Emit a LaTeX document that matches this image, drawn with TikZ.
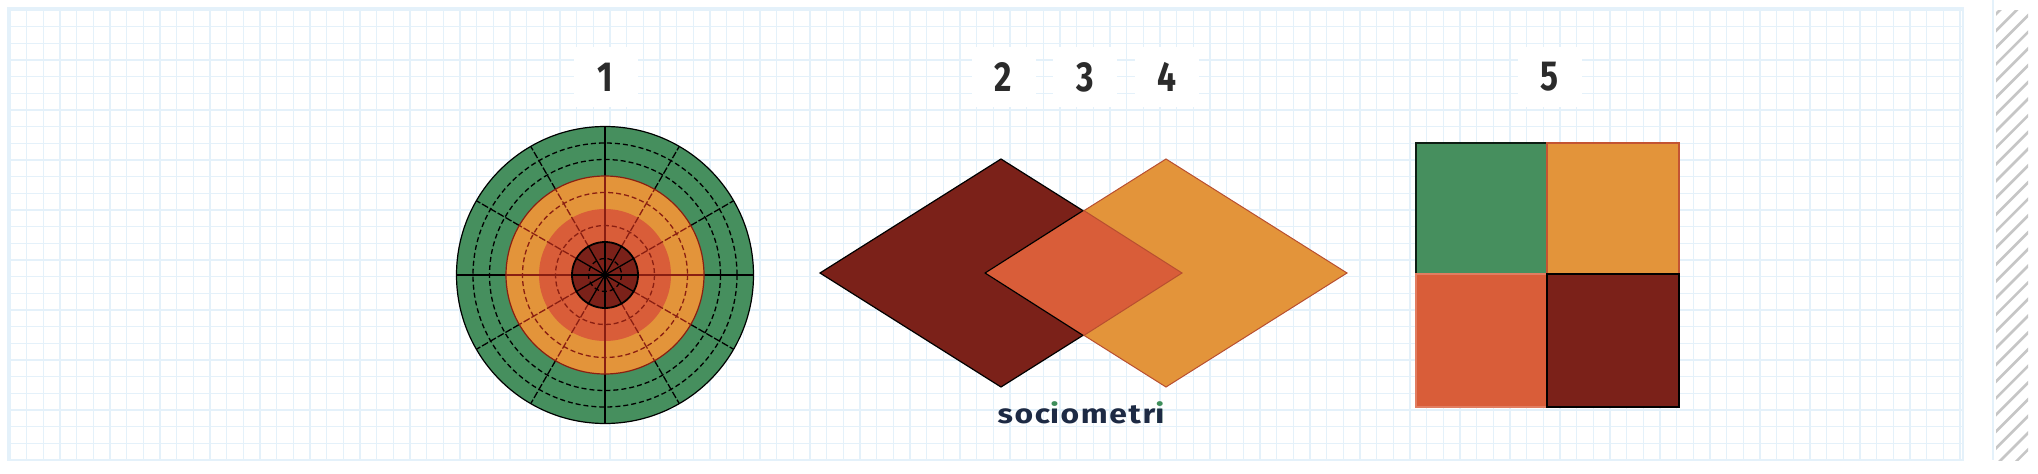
\documentclass[tikz,border=0pt]{standalone}
\usepackage{fontspec}
\setmainfont{Fira Sans}
\usepackage{graphicx}
\definecolor{cgreen}{HTML}{468F5E}
\definecolor{corange}{HTML}{E3943A}
\definecolor{cred}{HTML}{D95D39}
\definecolor{cdark}{HTML}{7B2119}
\definecolor{clines}{HTML}{8A1F12}
\definecolor{cnavy}{HTML}{1D2A44}
\definecolor{cdigit}{HTML}{2B2B2B}
\definecolor{cgrid}{HTML}{E4F1FA}
\definecolor{chatch}{HTML}{C6C6C6}
\definecolor{cdot}{HTML}{3E8E5A}
\newcommand{\gi}{\rlap{\textcolor{cdot}{i}}ı}
\tikzset{
  gridline/.style={cgrid, line width=1.5pt},
  numlabel/.style={fill=white, minimum width=64pt, minimum height=60pt, inner sep=0pt,
    text=cdigit, font=\fontsize{42}{42}\selectfont\bfseries},
  dashring/.style={dash pattern=on 5pt off 3pt, line width=1.3pt},
  spoke/.style={line width=1.3pt},
  dspoke/.style={dash pattern=on 7pt off 2pt, line width=1.3pt},
  cell/.style={line width=1.2pt}
}
\begin{document}
\begin{tikzpicture}[x=1pt,y=-1pt]
\useasboundingbox (0,0) rectangle (2038,474);
\fill[white] (0,0) rectangle (2038,474);
% grid paper
\foreach \i in {0,...,117} \draw[gridline] ({10+16.667*\i},8) -- ({10+16.667*\i},460);
\foreach \j in {0,...,27} \draw[gridline] (8,{10+16.667*\j}) -- (1963,{10+16.667*\j});
\draw[gridline] (8,8) rectangle (1963,460);
% right strip
\draw[cgrid, line width=1.5pt] (1993,0) -- (1993,460);
\begin{scope}
  \clip (1996,10) rectangle (2028,460);
  \foreach \k in {0,...,30} \draw[chatch, line width=2.6pt] (1990,{20+16.7*\k}) -- (2040,{-30+16.7*\k});
\end{scope}
% ---------- target 1 ----------
\coordinate (c) at (605,275);
\fill[cgreen] (c) circle (148.5);
\foreach \a in {30,60,120,150,210,240,300,330} \draw[dspoke, black] (c) ++(\a:99) -- ++(\a:49.5);
\foreach \a in {0,90,180,270} \draw[spoke, black] (c) ++(\a:99) -- ++(\a:49.5);
\draw[dashring, black] (c) circle (115.5);
\draw[dashring, black] (c) circle (132);
\draw[black, line width=1.2pt] (c) circle (148.5);
\fill[corange] (c) circle (99);
\fill[cred] (c) circle (66);
\draw[dashring, clines] (c) circle (82.5);
\draw[dashring, clines] (c) circle (49.5);
\foreach \a in {30,60,120,150,210,240,300,330} \draw[dspoke, clines] (c) ++(\a:33) -- ++(\a:66);
\foreach \a in {0,90,180,270} \draw[spoke, clines] (c) ++(\a:33) -- ++(\a:66);
\draw[clines, line width=1.2pt] (c) circle (99);
\fill[cdark] (c) circle (33);
\foreach \a in {0,30,...,330} \draw[spoke, black] (c) -- ++(\a:33);
\draw[dashring, black] (c) circle (16.5);
\draw[black, line width=1.8pt] (c) circle (33);
\fill[black] (c) circle (3);
% ---------- diamonds 2,3,4 ----------
\coordinate (dl) at (820,273); \coordinate (dt) at (1001,159);
\coordinate (dr) at (1182,273); \coordinate (db) at (1001,387);
\coordinate (el) at (985,273); \coordinate (et) at (1166,159);
\coordinate (er) at (1347,273); \coordinate (eb) at (1166,387);
\coordinate (ot) at (1083.5,210.3); \coordinate (ob) at (1083.5,335.7);
\filldraw[fill=cdark, draw=black, line width=1.2pt, line join=miter] (dl) -- (dt) -- (dr) -- (db) -- cycle;
\filldraw[fill=corange, draw=cred!85!black, line width=1pt] (el) -- (et) -- (er) -- (eb) -- cycle;
\fill[cred] (el) -- (ot) -- (dr) -- (ob) -- cycle;
\draw[black, line width=1.2pt] (ot) -- (el) -- (ob);
\draw[cred!85!black, line width=1pt] (ot) -- (dr) -- (ob);
% ---------- square 5 ----------
\filldraw[cell, fill=cgreen, draw=black!80!cgreen] (1416,143) rectangle (1547,274);
\filldraw[cell, fill=corange, draw=cred!90!black] (1547,143) rectangle (1679,274);
\filldraw[cell, fill=cred, draw=cred!80!white] (1416,274) rectangle (1547,407);
\filldraw[cell, fill=cdark, draw=black] (1547,274) rectangle (1679,407);
% ---------- labels ----------
\node[numlabel] (n1) at (605.5,77) {\scalebox{0.8}[1]{1}};
\node[numlabel] (n2) at (1003.5,77) {\scalebox{0.8}[1]{2}};
\node[numlabel] (n3) at (1085,77) {\scalebox{0.8}[1]{3}};
\node[numlabel] (n4) at (1166.5,77) {\scalebox{0.8}[1]{4}};
\node[numlabel] (n5) at (1549.5,77) {\scalebox{0.8}[1]{5}};
\node[anchor=base, inner sep=0pt, text=cnavy, font=\fontsize{27}{27}\selectfont\bfseries\addfontfeature{LetterSpace=5}] (brand) at (1081,423) {\scalebox{1.18}[1]{soc\gi ometr\gi}};
\end{tikzpicture}
\end{document}
